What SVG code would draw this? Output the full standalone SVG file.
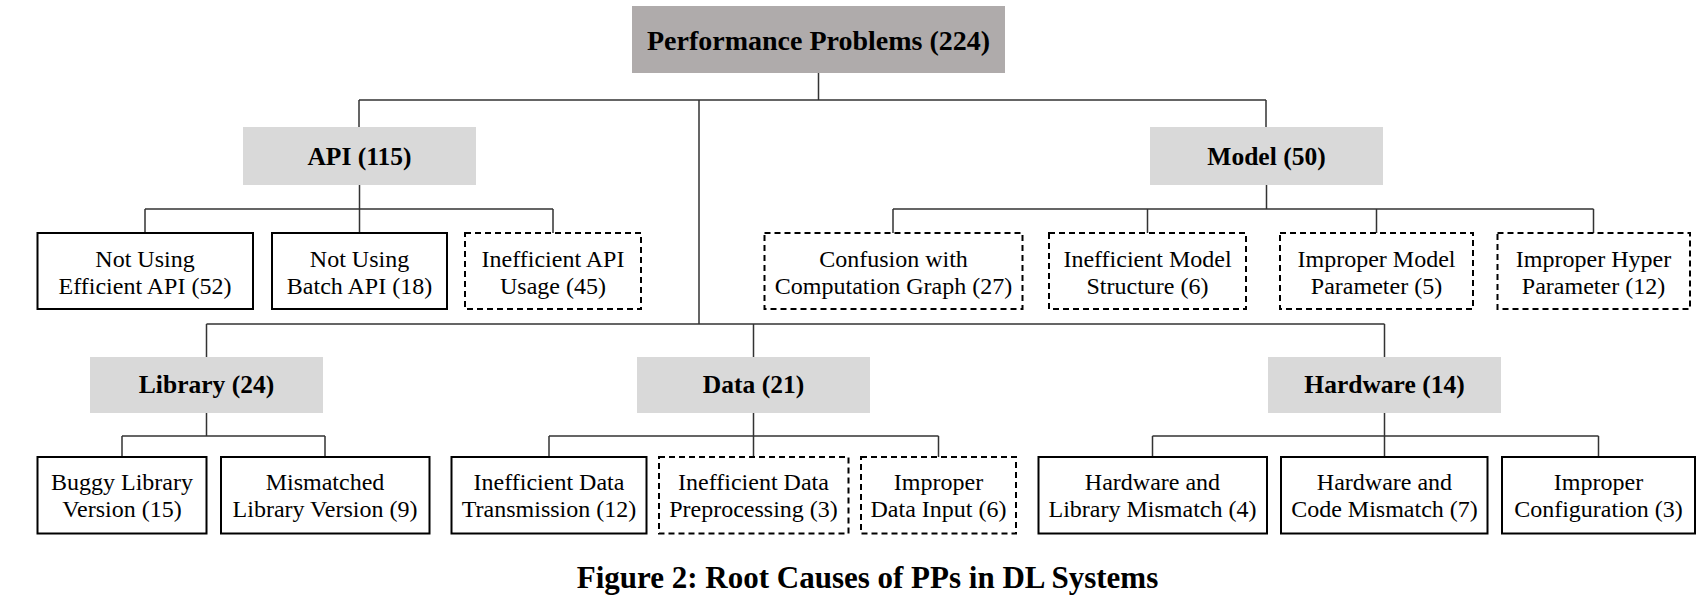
<svg xmlns="http://www.w3.org/2000/svg" width="1702" height="603" viewBox="0 0 1702 603">
<style>
  .root { fill: #AFABAB; }
  .mid { fill: #D9D9D9; }
  .leaf { fill: #FFFFFF; stroke: #000000; stroke-width: 2; }
  .dash { fill: #FFFFFF; stroke: #000000; stroke-width: 2; stroke-dasharray: 6 4; }
  .conn { stroke: #333333; stroke-width: 1.5; fill: none; }
  text { font-family: 'Liberation Serif', 'Times New Roman', Times, 'DejaVu Serif', serif; fill: #000000; text-anchor: middle; }
  .t { font-size: 24px; }
  .b { font-size: 25.5px; font-weight: bold; }
  .r { font-size: 28px; font-weight: bold; }
  .cap { font-size: 31px; font-weight: bold; }
</style>
<rect width="1702" height="603" fill="#FFFFFF"/>
<g id="connectors">
  <path class="conn" d="M818.5 73V100M359 100H1266M359 100V127M1266 100V127M699 100V324M206.5 324H1384.5M206.5 324V357M753.5 324V357M1384.5 324V357"/>
  <path class="conn" d="M359.5 185V233M145 209H553M145 209V233M553 209V233"/>
  <path class="conn" d="M1266.5 185V209M893 209H1593.5M893 209V233M1147.5 209V233M1376.5 209V233M1593.5 209V233"/>
  <path class="conn" d="M206.5 413V436M122 436H325M122 436V457M325 436V457"/>
  <path class="conn" d="M753.5 413V457M549 436H938.5M549 436V457M938.5 436V457"/>
  <path class="conn" d="M1384.5 413V457M1152.5 436H1598.5M1152.5 436V457M1598.5 436V457"/>
</g>
<g id="root">
  <rect class="root" x="632" y="6" width="373" height="67"/>
  <text class="r" x="818.5" y="50" font-family="Liberation Serif, serif">Performance Problems (224)</text>
</g>
<g id="api">
  <rect class="mid" x="243" y="127" width="233" height="58"/>
  <text class="b" x="359.5" y="165">API (115)</text>
</g>
<g id="model">
  <rect class="mid" x="1150" y="127" width="233" height="58"/>
  <text class="b" x="1266.5" y="165">Model (50)</text>
</g>
<g id="library">
  <rect class="mid" x="90" y="357" width="233" height="56"/>
  <text class="b" x="206.5" y="393">Library (24)</text>
</g>
<g id="data">
  <rect class="mid" x="637" y="357" width="233" height="56"/>
  <text class="b" x="753.5" y="393">Data (21)</text>
</g>
<g id="hardware">
  <rect class="mid" x="1268" y="357" width="233" height="56"/>
  <text class="b" x="1384.5" y="393">Hardware (14)</text>
</g>
<g id="not-using-efficient-api">
  <rect class="leaf" x="37.5" y="233" width="215.5" height="76"/>
  <text class="t" x="145" y="267">Not Using</text>
  <text class="t" x="145" y="294">Efficient API (52)</text>
</g>
<g id="not-using-batch-api">
  <rect class="leaf" x="272" y="233" width="175" height="76"/>
  <text class="t" x="359.5" y="267">Not Using</text>
  <text class="t" x="359.5" y="294">Batch API (18)</text>
</g>
<g id="inefficient-api-usage">
  <rect class="dash" x="465" y="233" width="176" height="76"/>
  <text class="t" x="553" y="267">Inefficient API</text>
  <text class="t" x="553" y="294">Usage (45)</text>
</g>
<g id="confusion-computation-graph">
  <rect class="dash" x="764.5" y="233" width="258" height="76"/>
  <text class="t" x="893.5" y="267">Confusion with</text>
  <text class="t" x="893.5" y="294">Computation Graph (27)</text>
</g>
<g id="inefficient-model-structure">
  <rect class="dash" x="1049" y="233" width="197" height="76"/>
  <text class="t" x="1147.5" y="267">Inefficient Model</text>
  <text class="t" x="1147.5" y="294">Structure (6)</text>
</g>
<g id="improper-model-parameter">
  <rect class="dash" x="1280" y="233" width="193" height="76"/>
  <text class="t" x="1376.5" y="267">Improper Model</text>
  <text class="t" x="1376.5" y="294">Parameter (5)</text>
</g>
<g id="improper-hyper-parameter">
  <rect class="dash" x="1497.5" y="233" width="192.5" height="76"/>
  <text class="t" x="1593.5" y="267">Improper Hyper</text>
  <text class="t" x="1593.5" y="294">Parameter (12)</text>
</g>
<g id="buggy-library-version">
  <rect class="leaf" x="37.5" y="457" width="169" height="76.5"/>
  <text class="t" x="122" y="489.5">Buggy Library</text>
  <text class="t" x="122" y="516.5">Version (15)</text>
</g>
<g id="mismatched-library-version">
  <rect class="leaf" x="221" y="457" width="208.5" height="76.5"/>
  <text class="t" x="325" y="489.5">Mismatched</text>
  <text class="t" x="325" y="516.5">Library Version (9)</text>
</g>
<g id="inefficient-data-transmission">
  <rect class="leaf" x="451.5" y="457" width="195" height="76.5"/>
  <text class="t" x="549" y="489.5">Inefficient Data</text>
  <text class="t" x="549" y="516.5">Transmission (12)</text>
</g>
<g id="inefficient-data-preprocessing">
  <rect class="dash" x="659" y="457" width="189.5" height="76.5"/>
  <text class="t" x="753.5" y="489.5">Inefficient Data</text>
  <text class="t" x="753.5" y="516.5">Preprocessing (3)</text>
</g>
<g id="improper-data-input">
  <rect class="dash" x="861" y="457" width="155" height="76.5"/>
  <text class="t" x="938.5" y="489.5">Improper</text>
  <text class="t" x="938.5" y="516.5">Data Input (6)</text>
</g>
<g id="hardware-library-mismatch">
  <rect class="leaf" x="1038.5" y="457" width="228.5" height="76.5"/>
  <text class="t" x="1152.5" y="489.5">Hardware and</text>
  <text class="t" x="1152.5" y="516.5">Library Mismatch (4)</text>
</g>
<g id="hardware-code-mismatch">
  <rect class="leaf" x="1281" y="457" width="206.5" height="76.5"/>
  <text class="t" x="1384.5" y="489.5">Hardware and</text>
  <text class="t" x="1384.5" y="516.5">Code Mismatch (7)</text>
</g>
<g id="improper-configuration">
  <rect class="leaf" x="1502" y="457" width="193" height="76.5"/>
  <text class="t" x="1598.5" y="489.5">Improper</text>
  <text class="t" x="1598.5" y="516.5">Configuration (3)</text>
</g>
<text class="cap" x="867.5" y="588">Figure 2: Root Causes of PPs in DL Systems</text>
</svg>
